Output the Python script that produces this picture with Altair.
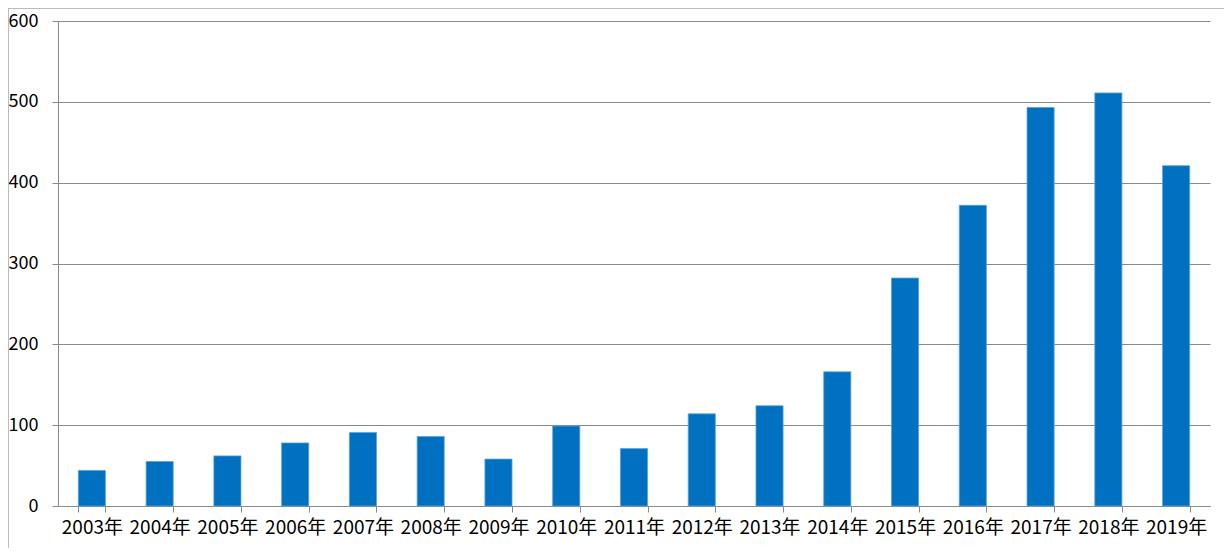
import altair as alt
import pandas as pd

years = ["2003年", "2004年", "2005年", "2006年", "2007年", "2008年", "2009年",
         "2010年", "2011年", "2012年", "2013年", "2014年", "2015年", "2016年",
         "2017年", "2018年", "2019年"]
values = [44, 55, 62, 78, 91, 86, 58, 99, 71, 114, 124, 166, 282, 372, 493, 511, 421]
y_ticks = [0, 100, 200, 300, 400, 500, 600]

df = pd.DataFrame({"year": years, "value": values})

FONT = "Noto Sans CJK SC"
GRID = "#8a8a8a"

bars = alt.Chart(df).mark_bar(
    color="#0070C0", stroke="#5aa2dc", strokeWidth=0.8
).encode(
    x=alt.X("year:N", sort=years, title=None,
            scale=alt.Scale(paddingInner=0.6, paddingOuter=0.3),
            axis=alt.Axis(labelAngle=0, labelFontSize=19, labelFont=FONT,
                          labelColor="#000000", tickBand="extent", tickSize=6,
                          tickColor=GRID, domainColor=GRID, labelPadding=6,
                          grid=False, labelBaseline="top")),
    y=alt.Y("value:Q", title=None,
            scale=alt.Scale(domain=[0, 600], nice=False),
            axis=alt.Axis(values=y_ticks, labelFontSize=18, labelFont=FONT,
                          labelColor="#000000", tickSize=6, tickColor=GRID,
                          domainColor=GRID, gridColor=GRID, grid=True,
                          labelPadding=14)),
)

frame = alt.Chart(alt.Data(values=[{}])).mark_rule(color="#a6a6a6", strokeWidth=1.5).encode(
    x=alt.value(-50), x2=alt.value(1166), y=alt.value(-13)
)
frame_left = alt.Chart(alt.Data(values=[{}])).mark_rule(color="#a6a6a6", strokeWidth=1.5).encode(
    x=alt.value(-50), y=alt.value(-13), y2=alt.value(528)
)

chart = alt.layer(bars, frame, frame_left).properties(
    width=1152, height=485,
    autosize=alt.AutoSizeParams(type="none"),
    padding={"left": 50, "top": 13, "right": 14, "bottom": 42},
    background="#ffffff",
).configure_view(stroke=None)

chart.save("out.html", embed_options={"renderer": "svg", "actions": False})
